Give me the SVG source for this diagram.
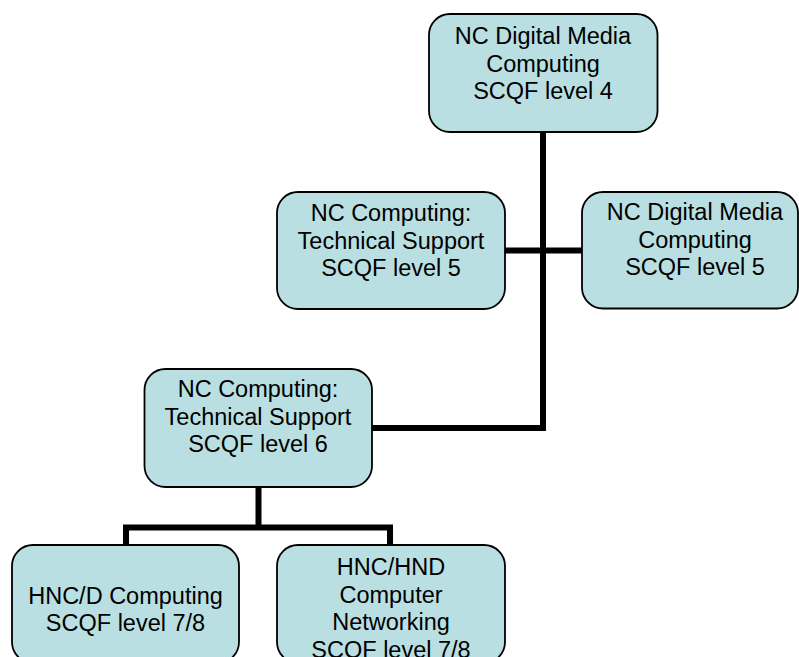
<svg xmlns="http://www.w3.org/2000/svg" width="799" height="657" viewBox="0 0 799 657">
<style>
.box{fill:#BADFE2;stroke:#000;stroke-width:1.8}
.t{font-family:"Liberation Sans",Arial,sans-serif;font-size:23.5px;fill:#000;text-anchor:middle}
.c{fill:none;stroke:#000;stroke-width:6;stroke-linecap:butt;stroke-linejoin:miter}
</style>
<rect width="799" height="657" fill="#fff"/>
<g id="connectors">
<path class="c" d="M543 132 V431"/>
<path class="c" d="M372 428 H546"/>
<path class="c" d="M505 250.5 H582"/>
<path class="c" d="M258.5 487 V527.5"/>
<path class="c" d="M126 546 V527.5 H390 V546"/>
</g>
<g id="n1">
<rect class="box" x="429" y="14" width="228.5" height="118" rx="21"/>
<text class="t" x="543" y="44">NC Digital Media</text>
<text class="t" x="543" y="71.5">Computing</text>
<text class="t" x="543" y="99">SCQF level 4</text>
</g>
<g id="n2">
<rect class="box" x="277" y="192" width="228" height="117" rx="21"/>
<text class="t" x="391" y="221">NC Computing:</text>
<text class="t" x="391" y="248.5">Technical Support</text>
<text class="t" x="391" y="276">SCQF level 5</text>
</g>
<g id="n3">
<rect class="box" x="582" y="192" width="216" height="116.5" rx="21"/>
<text class="t" x="695" y="220">NC Digital Media</text>
<text class="t" x="695" y="247.5">Computing</text>
<text class="t" x="695" y="275">SCQF level 5</text>
</g>
<g id="n4">
<rect class="box" x="144.5" y="369" width="227.5" height="118" rx="21"/>
<text class="t" x="258" y="397">NC Computing:</text>
<text class="t" x="258" y="424.5">Technical Support</text>
<text class="t" x="258" y="452">SCQF level 6</text>
</g>
<g id="n5">
<rect class="box" x="12" y="545" width="227" height="118" rx="21"/>
<text class="t" x="125.5" y="603.5">HNC/D Computing</text>
<text class="t" x="125.5" y="631">SCQF level 7/8</text>
</g>
<g id="n6">
<rect class="box" x="277" y="545" width="228" height="118" rx="21"/>
<text class="t" x="391" y="575">HNC/HND</text>
<text class="t" x="391" y="602.5">Computer</text>
<text class="t" x="391" y="630">Networking</text>
<text class="t" x="391" y="657.5">SCQF level 7/8</text>
</g>
</svg>
